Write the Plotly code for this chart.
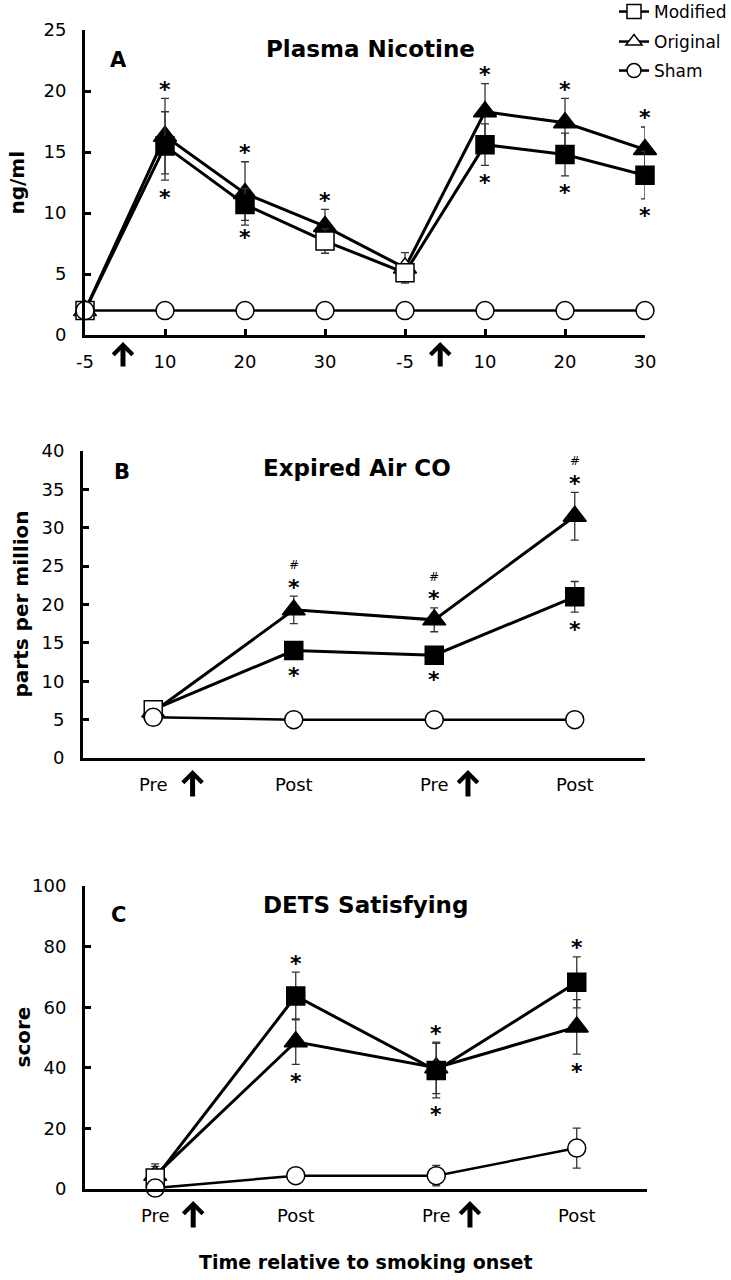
import plotly.graph_objects as go

FONT = "DejaVu Sans"

# ---------------- data ----------------
# Panel A: Plasma nicotine (ng/ml)
a_ticks = ["-5", "10", "20", "30", "-5", "10", "20", "30"]
a_original = [2.0, 16.3, 11.6, 8.9, 5.5, 18.3, 17.4, 15.2]
a_original_err = [0.0, 3.1, 2.6, 1.4, 1.25, 2.3, 2.0, 1.85]
a_original_sig = [0, 1, 1, 1, 0, 1, 1, 1]
a_modified = [2.0, 15.5, 10.7, 7.7, 5.1, 15.6, 14.8, 13.1]
a_modified_err = [0.0, 2.8, 1.3, 1.0, 0.6, 1.7, 1.75, 1.95]
a_modified_sig = [0, 1, 1, 0, 0, 1, 1, 1]
a_sham = [2.0, 2.0, 2.0, 2.0, 2.0, 2.0, 2.0, 2.0]
a_sham_err = [0.0, 0.0, 0.0, 0.0, 0.0, 0.0, 0.0, 0.0]
a_hash = [0, 0, 0, 0, 0, 0, 0, 0]
a_onset = [0.475, 4.44]

# Panel B: Expired air CO (ppm)
b_ticks = ["Pre", "Post", "Pre", "Post"]
b_original = [6.0, 19.3, 18.0, 31.5]
b_original_err = [0.5, 1.8, 1.55, 3.1]
b_original_sig = [0, 1, 1, 1]
b_modified = [6.3, 14.0, 13.4, 21.0]
b_modified_err = [0.5, 1.0, 1.0, 2.0]
b_modified_sig = [0, 1, 1, 1]
b_sham = [5.3, 5.0, 5.0, 5.0]
b_sham_err = [0.3, 0.3, 0.3, 0.3]
b_hash = [0, 1, 1, 1]
b_onset = [0.28, 2.24]

# Panel C: DETS satisfying (score)
c_ticks = ["Pre", "Post", "Pre", "Post"]
c_original = [4.5, 48.6, 40.0, 53.5]
c_original_err = [3.0, 7.5, 8.5, 9.0]
c_original_sig = [0, 1, 1, 1]
c_modified = [3.6, 63.7, 39.1, 68.2]
c_modified_err = [4.7, 7.9, 9.0, 8.4]
c_modified_sig = [0, 1, 1, 1]
c_sham = [0.3, 4.4, 4.4, 13.5]
c_sham_err = [0.5, 1.0, 3.4, 6.6]
c_hash = [0, 0, 0, 0]
c_onset = [0.27, 2.24]

# ---------------- layout helpers ----------------
W, H = 731, 1280


def px_x(p):
    return p / W


def px_y(p):
    return 1 - p / H


panels = [
    dict(letter="A", title="Plasma Nicotine", ytitle="ng/ml", xa="x", ya="y",
         ticks=a_ticks, orig=a_original, orig_err=a_original_err, orig_sig=a_original_sig,
         mod=a_modified, mod_err=a_modified_err, mod_sig=a_modified_sig,
         sham=a_sham, sham_err=a_sham_err, hash=a_hash, onset=a_onset,
         xdom=[px_x(85), px_x(645)], ydom=[px_y(335), px_y(30)],
         xrange=[0, 7], yrange=[0, 25], ydtick=5, xticks_on=True,
         letter_pos=(118, 60), title_pos=(370, 49), ytitle_x=16,
         arrow_tip=342, arrow_len=26),
    dict(letter="B", title="Expired Air CO", ytitle="parts per million", xa="x2", ya="y2",
         ticks=b_ticks, orig=b_original, orig_err=b_original_err, orig_sig=b_original_sig,
         mod=b_modified, mod_err=b_modified_err, mod_sig=b_modified_sig,
         sham=b_sham, sham_err=b_sham_err, hash=b_hash, onset=b_onset,
         xdom=[px_x(83), px_x(645)], ydom=[px_y(758), px_y(451)],
         xrange=[-0.5, 3.5], yrange=[0, 40], ydtick=5, xticks_on=False,
         letter_pos=(122, 472), title_pos=(357, 468), ytitle_x=21,
         arrow_tip=770, arrow_len=28),
    dict(letter="C", title="DETS Satisfying", ytitle="score", xa="x3", ya="y3",
         ticks=c_ticks, orig=c_original, orig_err=c_original_err, orig_sig=c_original_sig,
         mod=c_modified, mod_err=c_modified_err, mod_sig=c_modified_sig,
         sham=c_sham, sham_err=c_sham_err, hash=c_hash, onset=c_onset,
         xdom=[px_x(85), px_x(647)], ydom=[px_y(1189), px_y(886)],
         xrange=[-0.5, 3.5], yrange=[0, 100], ydtick=20, xticks_on=False,
         letter_pos=(118, 915), title_pos=(365, 905), ytitle_x=22,
         arrow_tip=1201, arrow_len=28),
]

fig = go.Figure()
annotations = []
layout_axes = {}


def err_style(arr):
    return dict(type="data", array=arr, visible=True, color="#333333",
                thickness=1.3, width=4)


def fills(sig):
    return ["black" if s else "white" for s in sig]


for k, p in enumerate(panels):
    n = len(p["ticks"])
    xs = list(range(n))
    series = [
        ("Original", p["orig"], p["orig_err"], fills(p["orig_sig"]), "triangle-up", 20, 3),
        ("Modified", p["mod"], p["mod_err"], fills(p["mod_sig"]), "square", 18, 3),
        ("Sham", p["sham"], p["sham_err"], ["white"] * n, "circle", 18, 2.5),
    ]
    for name, vals, err, cols, sym, size, lw in series:
        fig.add_trace(go.Scatter(
            x=xs, y=vals, name=name, mode="lines+markers",
            error_y=err_style(err),
            line=dict(color="black", width=lw),
            marker=dict(symbol=sym, size=size, color=cols,
                        line=dict(color="black", width=1.5)),
            cliponaxis=False, showlegend=False,
            xaxis=p["xa"], yaxis=p["ya"], hoverinfo="skip"))

    # significance markers
    for i in range(n):
        o_v, o_e, o_s = p["orig"][i], p["orig_err"][i], p["orig_sig"][i]
        m_v, m_e, m_s = p["mod"][i], p["mod_err"][i], p["mod_sig"][i]
        entries = [(o_v, o_e, o_s, "orig"), (m_v, m_e, m_s, "mod")]
        hi = max(entries, key=lambda t: t[0])
        for v, e, s, who in entries:
            if not s:
                continue
            above = (who == hi[3])
            if above:
                annotations.append(dict(
                    x=i, y=v + e, xref=p["xa"], yref=p["ya"], text="<b>*</b>",
                    showarrow=False, yanchor="middle", yshift=9,
                    font=dict(family=FONT, size=22, color="black")))
                if who == "orig" and p["hash"][i]:
                    annotations.append(dict(
                        x=i, y=v + e, xref=p["xa"], yref=p["ya"], text="#",
                        showarrow=False, yanchor="middle", yshift=31,
                        font=dict(family=FONT, size=12, color="black")))
            else:
                annotations.append(dict(
                    x=i, y=v - e, xref=p["xa"], yref=p["ya"], text="<b>*</b>",
                    showarrow=False, yanchor="middle", yshift=-17,
                    font=dict(family=FONT, size=22, color="black")))

    # smoking-onset arrows
    for xo in p["onset"]:
        annotations.append(dict(
            x=xo, y=px_y(p["arrow_tip"]), xref=p["xa"], yref="paper",
            text="", showarrow=True, ax=0, ay=p["arrow_len"],
            arrowhead=4, arrowsize=0.75, arrowwidth=5, arrowcolor="black"))

    # panel letter and title
    lx, ly = p["letter_pos"]
    annotations.append(dict(x=px_x(lx), y=px_y(ly), xref="paper", yref="paper",
                            text="<b>%s</b>" % p["letter"], showarrow=False,
                            xanchor="center", yanchor="middle",
                            font=dict(family=FONT, size=21, color="black")))
    tx, ty = p["title_pos"]
    annotations.append(dict(x=px_x(tx), y=px_y(ty), xref="paper", yref="paper",
                            text="<b>%s</b>" % p["title"], showarrow=False,
                            xanchor="center", yanchor="middle",
                            font=dict(family=FONT, size=23, color="black")))
    # y title
    annotations.append(dict(x=px_x(p["ytitle_x"]), y=(p["ydom"][0] + p["ydom"][1]) / 2,
                            xref="paper", yref="paper", text="<b>%s</b>" % p["ytitle"],
                            showarrow=False, textangle=-90,
                            xanchor="center", yanchor="middle",
                            font=dict(family=FONT, size=20, color="black")))

    suffix = "" if k == 0 else str(k + 1)
    layout_axes["xaxis" + suffix] = dict(
        domain=p["xdom"], anchor=p["ya"], range=p["xrange"], automargin=False,
        tickmode="array", tickvals=xs, ticktext=p["ticks"],
        ticks="inside" if p["xticks_on"] else "", ticklen=6, tickwidth=2.5,
        tickcolor="black", showline=True, linewidth=3, linecolor="black",
        showgrid=False, zeroline=False, ticklabelstandoff=8,
        tickfont=dict(family=FONT, size=18, color="black"), fixedrange=True)
    layout_axes["yaxis" + suffix] = dict(
        domain=p["ydom"], anchor=p["xa"], range=p["yrange"], automargin=False,
        tickmode="linear", tick0=0, dtick=p["ydtick"],
        ticks="inside", ticklen=6, tickwidth=2.5, tickcolor="black",
        showline=True, linewidth=3, linecolor="black",
        showgrid=False, zeroline=False, ticklabelstandoff=12,
        tickfont=dict(family=FONT, size=18, color="black"), fixedrange=True)

# x-axis title (shared)
annotations.append(dict(x=px_x(366), y=px_y(1262), xref="paper", yref="paper",
                        text="<b>Time relative to smoking onset</b>", showarrow=False,
                        xanchor="center", yanchor="middle",
                        font=dict(family=FONT, size=19, color="black")))

# legend entries (one legend per entry for exact spacing)
legend_items = [("Modified", "square", 12), ("Original", "triangle-up", 42), ("Sham", "circle", 71)]
legend_layouts = {}
for j, (name, sym, ypix) in enumerate(legend_items):
    lid = "legend" if j == 0 else "legend%d" % (j + 1)
    fig.add_trace(go.Scatter(
        x=[None], y=[None], name=name, mode="lines+markers",
        line=dict(color="black", width=2.5),
        marker=dict(symbol=sym, size=14, color="white", line=dict(color="black", width=1.5)),
        legend=lid, showlegend=True, xaxis="x", yaxis="y"))
    legend_layouts[lid] = dict(x=px_x(614), y=px_y(ypix), xanchor="left", yanchor="middle",
                               bgcolor="rgba(0,0,0,0)", borderwidth=0,
                               font=dict(family=FONT, size=17, color="black"),
                               itemclick=False, itemdoubleclick=False)

fig.update_layout(
    width=W, height=H, margin=dict(l=0, r=0, t=0, b=0, autoexpand=False),
    paper_bgcolor="white", plot_bgcolor="white",
    font=dict(family=FONT, color="black"),
    annotations=annotations, **layout_axes, **legend_layouts)

fig.write_html("out.html", config={"displayModeBar": False},
               post_script="document.body.style.margin='0px';document.body.style.overflow='hidden';")
